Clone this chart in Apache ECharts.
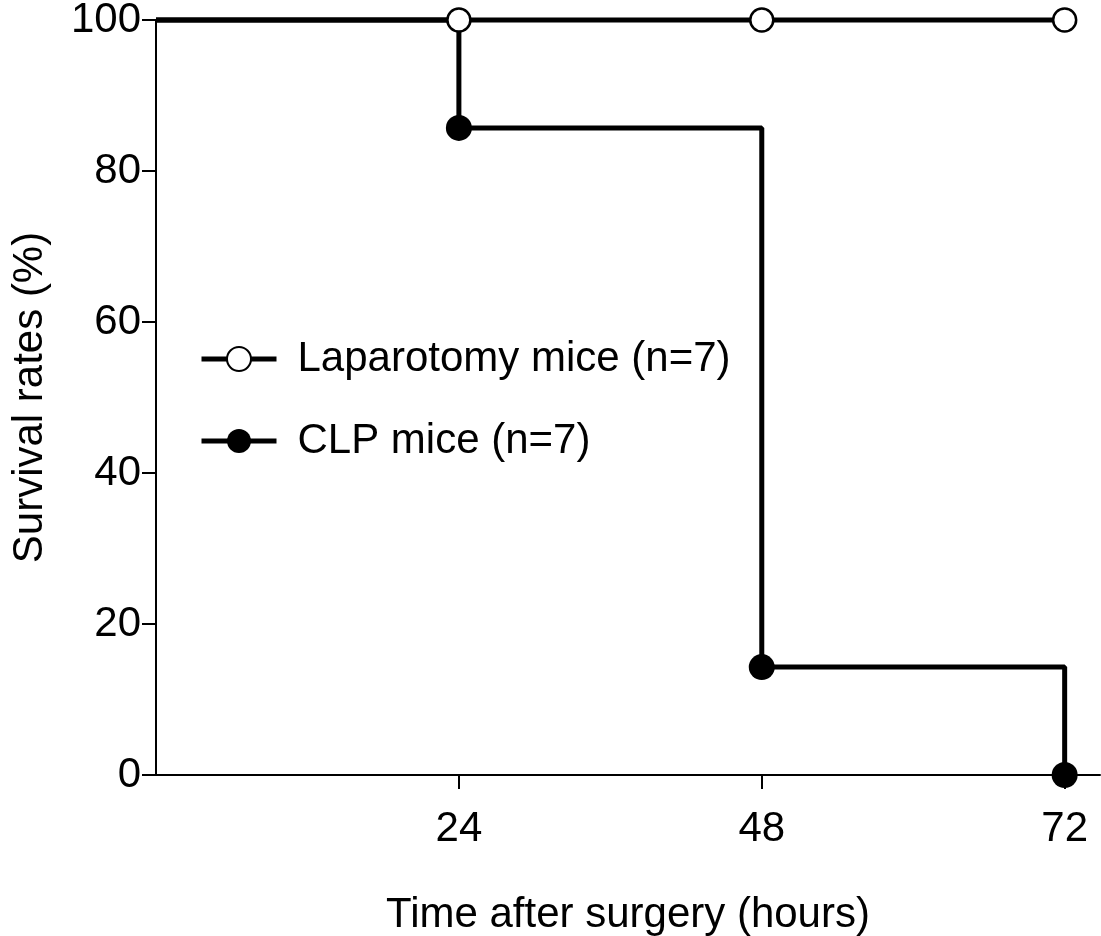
<!DOCTYPE html>
<html>
<head>
<meta charset="utf-8">
<script src="https://cdn.jsdelivr.net/npm/echarts@6/dist/echarts.min.js"></script>
<style>
html,body{margin:0;padding:0;background:#fff;}
#chart{width:1101px;height:936px;}
</style>
</head>
<body>
<div id="chart"></div>
<script>
const seriesNames = ['Laparotomy mice (n=7)', 'CLP mice (n=7)'];
const hours = [0, 24, 48, 72];
const laparotomySurvival = [100, 100, 100, 100];
const clpSurvival = [100, 85.71, 14.29, 0];
const xTickLabels = [24, 48, 72];
const xAxisTitle = 'Time after surgery (hours)';
const yAxisTitle = 'Survival rates (%)';

function toData(xs, ys) {
  return xs.map((x, i) => i === 0 ? { value: [x, ys[i]], symbol: 'none' } : { value: [x, ys[i]] });
}

const font = 'Liberation Sans, Arial, sans-serif';
const chart = echarts.init(document.getElementById('chart'));
chart.setOption({
  animation: false,
  backgroundColor: '#fff',
  grid: { left: 156, top: 20, right: 1, bottom: 161, containLabel: false, outerBoundsMode: 'none' },
  legend: {
    data: [seriesNames[0], seriesNames[1]],
    orient: 'vertical',
    left: 194,
    top: 333,
    itemWidth: 75,
    itemHeight: 30,
    itemGap: 40,
    lineStyle: { width: 5, color: '#000' },
    textStyle: { fontFamily: font, fontSize: 42, color: '#000', lineHeight: 42, padding: [0, 0, 0, 16] }
  },
  xAxis: {
    type: 'value',
    min: 0,
    max: 74.8,
    interval: 24,
    name: xAxisTitle,
    nameLocation: 'middle',
    nameGap: 119,
    nameTextStyle: { fontFamily: font, fontSize: 42, color: '#000' },
    axisLine: { lineStyle: { color: '#000', width: 2 } },
    axisTick: { show: true, length: 14, lineStyle: { color: '#000', width: 2 }, customValues: xTickLabels },
    axisLabel: { fontFamily: font, fontSize: 42, color: '#000', margin: 33, customValues: xTickLabels },
    splitLine: { show: false }
  },
  yAxis: {
    type: 'value',
    min: 0,
    max: 100,
    interval: 20,
    name: yAxisTitle,
    nameLocation: 'middle',
    nameGap: 105,
    nameTextStyle: { fontFamily: font, fontSize: 42, color: '#000' },
    axisLine: { show: true, lineStyle: { color: '#000', width: 2 } },
    axisTick: { show: true, length: 14, lineStyle: { color: '#000', width: 2 } },
    axisLabel: { fontFamily: font, fontSize: 42, color: '#000', margin: 15 },
    splitLine: { show: false }
  },
  series: [
    {
      name: seriesNames[1],
      type: 'line',
      step: 'end',
      clip: false,
      data: toData(hours, clpSurvival),
      symbol: 'circle',
      symbolSize: 26,
      lineStyle: { color: '#000', width: 5 },
      itemStyle: { color: '#000', borderColor: '#000', borderWidth: 0 },
      z: 2
    },
    {
      name: seriesNames[0],
      type: 'line',
      step: 'end',
      clip: false,
      data: toData(hours, laparotomySurvival),
      symbol: 'circle',
      symbolSize: 23,
      lineStyle: { color: '#000', width: 5 },
      itemStyle: { color: '#fff', borderColor: '#000', borderWidth: 2.5 },
      z: 3
    }
  ]
});
</script>
</body>
</html>
